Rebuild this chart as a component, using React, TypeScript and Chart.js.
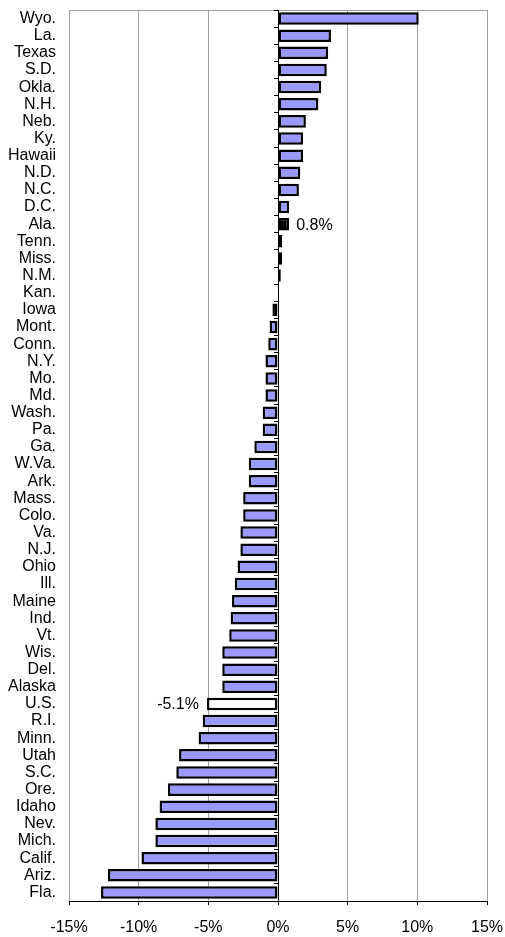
import React, { useEffect, useRef } from "react";
import { Chart, registerables } from "chart.js";

Chart.register(...registerables);

const categories: string[] = [
  "Wyo.", "La.", "Texas", "S.D.", "Okla.", "N.H.", "Neb.", "Ky.", "Hawaii", "N.D.",
  "N.C.", "D.C.", "Ala.", "Tenn.", "Miss.", "N.M.", "Kan.", "Iowa", "Mont.", "Conn.",
  "N.Y.", "Mo.", "Md.", "Wash.", "Pa.", "Ga.", "W.Va.", "Ark.", "Mass.", "Colo.",
  "Va.", "N.J.", "Ohio", "Ill.", "Maine", "Ind.", "Vt.", "Wis.", "Del.", "Alaska",
  "U.S.", "R.I.", "Minn.", "Utah", "S.C.", "Ore.", "Idaho", "Nev.", "Mich.", "Calif.",
  "Ariz.", "Fla.",
];

const changePct: number[] = [
  10.1, 3.8, 3.6, 3.5, 3.1, 2.9, 2.0, 1.8, 1.8, 1.6,
  1.5, 0.8, 0.8, 0.3, 0.3, 0.2, 0.0, -0.4, -0.6, -0.7,
  -0.9, -0.9, -0.9, -1.1, -1.1, -1.7, -2.1, -2.1, -2.5, -2.5,
  -2.7, -2.7, -2.9, -3.1, -3.3, -3.4, -3.5, -4.0, -4.0, -4.0,
  -5.1, -5.4, -5.7, -7.1, -7.3, -7.9, -8.5, -8.8, -8.8, -9.8,
  -12.2, -12.7,
];

const labelledCategories: string[] = ["Ala.", "U.S."];
const stateHighlight = "Ala.";
const nationHighlight = "U.S.";

const xMin = -15;
const xMax = 15;
const xStep = 5;

const FONT = "'Liberation Sans', Arial, sans-serif";

const valueLabelPlugin = {
  id: "valueLabels",
  afterDatasetsDraw(chart: any) {
    const meta = chart.getDatasetMeta(0);
    const ctx = chart.ctx;
    ctx.save();
    ctx.font = `16px ${FONT}`;
    ctx.fillStyle = "#000";
    ctx.textBaseline = "middle";
    meta.data.forEach((bar: any, i: number) => {
      const cat = categories[i];
      if (!labelledCategories.includes(cat)) return;
      const v = changePct[i];
      const text = `${v.toFixed(1)}%`;
      if (v >= 0) {
        ctx.textAlign = "left";
        ctx.fillText(text, bar.x + 7, bar.y + 1);
      } else {
        ctx.textAlign = "right";
        ctx.fillText(text, bar.x - 8, bar.y + 1);
      }
    });
    ctx.restore();
  },
};

export default function App() {
  const canvasRef = useRef<HTMLCanvasElement | null>(null);

  useEffect(() => {
    document.body.style.margin = "0";
    const canvas = canvasRef.current;
    if (!canvas) return;
    const bg = categories.map((c) =>
      c === stateHighlight ? "#000000" : c === nationHighlight ? "#ffffff" : "#9999ff"
    );
    const chart = new Chart(canvas, {
      type: "bar",
      data: {
        labels: categories,
        datasets: [
          {
            data: changePct,
            backgroundColor: bg,
            borderColor: "#000000",
            borderWidth: 2.5,
            borderSkipped: false,
            barPercentage: 0.73,
            categoryPercentage: 1,
            yAxisID: "y",
          },
        ],
      },
      options: {
        indexAxis: "y",
        animation: false,
        responsive: false,
        maintainAspectRatio: false,
        layout: { padding: { top: 10, right: 18, left: 0, bottom: 0 } },
        plugins: {
          legend: { display: false },
          tooltip: { enabled: false },
          title: { display: false },
        },
        scales: {
          x: {
            type: "linear",
            min: xMin,
            max: xMax,
            position: "bottom",
            ticks: {
              stepSize: xStep,
              color: "#000",
              padding: 13,
              font: { family: FONT, size: 16 },
              callback: (v: any) => `${v}%`,
            },
            grid: {
              color: "#a0a0a0",
              lineWidth: 1,
              drawTicks: true,
              tickLength: 4,
              tickColor: "#000",
            },
            border: { display: true, color: "#000", width: 1 },
            afterFit: (s: any) => {
              s.height = 36;
              s.paddingLeft = 0;
              s.paddingRight = 0;
            },
          },
          y: {
            type: "category",
            position: "left",
            offset: true,
            ticks: {
              color: "#000",
              padding: 13,
              autoSkip: false,
              font: { family: FONT, size: 16 },
            },
            grid: {
              offset: true,
              drawTicks: false,
              color: (c: any) => (c.index === 0 ? "#a0a0a0" : "rgba(0,0,0,0)"),
            },
            border: { display: false },
            afterFit: (s: any) => {
              s.width = 69;
              s.paddingTop = 0;
              s.paddingBottom = 0;
            },
          },
          y0: {
            type: "category",
            position: { x: 0 } as any,
            offset: true,
            ticks: { display: false, autoSkip: false },
            grid: {
              offset: true,
              drawOnChartArea: false,
              drawTicks: true,
              tickLength: 4,
              color: "#000",
            },
            border: { display: true, color: "#000", width: 1 },
            afterFit: (s: any) => {
              s.paddingTop = 0;
              s.paddingBottom = 0;
            },
          },
        },
      } as any,
      plugins: [valueLabelPlugin],
    });
    return () => chart.destroy();
  }, []);

  return (
    <div style={{ width: 505, height: 937 }}>
      <canvas ref={canvasRef} width={505} height={937} style={{ display: "block" }} />
    </div>
  );
}
